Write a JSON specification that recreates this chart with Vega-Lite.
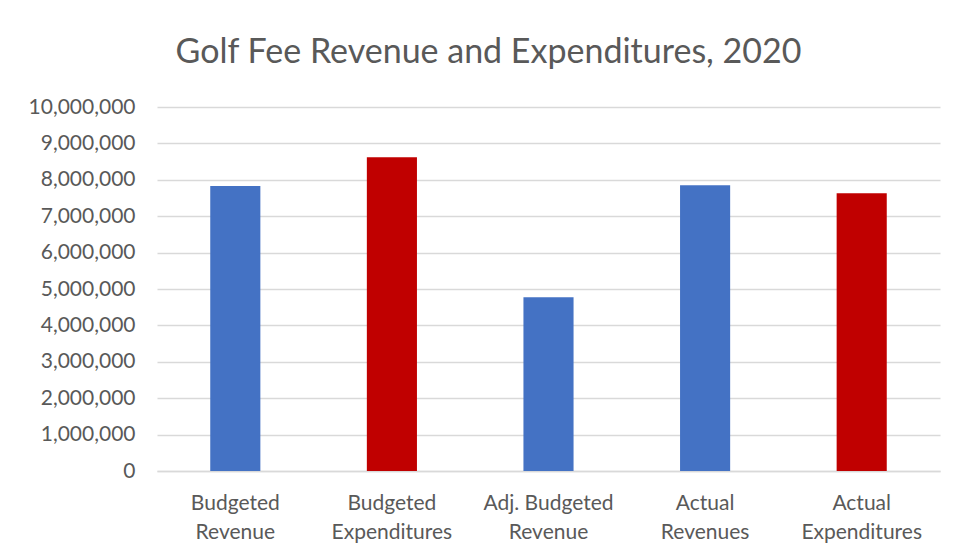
{
  "$schema": "https://vega.github.io/schema/vega-lite/v6.json",
  "autosize": "none",
  "width": 783,
  "height": 364,
  "padding": {"left": 157, "top": 107, "right": 16, "bottom": 86},
  "background": "white",
  "title": {
    "text": "Golf Fee Revenue and Expenditures, 2020",
    "font": "Lato",
    "fontSize": 34,
    "fontWeight": "normal",
    "color": "#595959",
    "anchor": "middle",
    "dx": -60,
    "offset": 26
  },
  "data": {
    "values": [
      {"item": "Budgeted|Revenue", "value": 7830000, "kind": "Revenue"},
      {"item": "Budgeted|Expenditures", "value": 8620000, "kind": "Expenditure"},
      {"item": "Adj. Budgeted|Revenue", "value": 4770000, "kind": "Revenue"},
      {"item": "Actual|Revenues", "value": 7850000, "kind": "Revenue"},
      {"item": "Actual|Expenditures", "value": 7630000, "kind": "Expenditure"}
    ]
  },
  "mark": {"type": "bar"},
  "encoding": {
    "x": {
      "field": "item",
      "type": "nominal",
      "sort": null,
      "scale": {"paddingInner": 0.68, "paddingOuter": 0.34},
      "axis": {
        "title": null,
        "labelAngle": 0,
        "labelExpr": "split(datum.label, '|')",
        "labelFont": "Lato",
        "labelFontSize": 21,
        "labelColor": "#595959",
        "labelLineHeight": 29,
        "labelPadding": 21,
        "ticks": false,
        "domainColor": "#d9d9d9",
        "domainWidth": 1.5,
        "grid": false
      }
    },
    "y": {
      "field": "value",
      "type": "quantitative",
      "scale": {"domain": [0, 10000000], "nice": false},
      "axis": {
        "title": null,
        "values": [0, 1000000, 2000000, 3000000, 4000000, 5000000, 6000000, 7000000, 8000000, 9000000, 10000000],
        "format": ",d",
        "labelFont": "Lato",
        "labelFontSize": 21,
        "labelColor": "#595959",
        "labelPadding": 22,
        "ticks": false,
        "domain": false,
        "grid": true,
        "gridColor": "#d9d9d9",
        "gridWidth": 1.5
      }
    },
    "color": {
      "field": "kind",
      "type": "nominal",
      "scale": {"domain": ["Revenue", "Expenditure"], "range": ["#4472C4", "#C00000"]},
      "legend": null
    }
  },
  "config": {"view": {"stroke": null}}
}
